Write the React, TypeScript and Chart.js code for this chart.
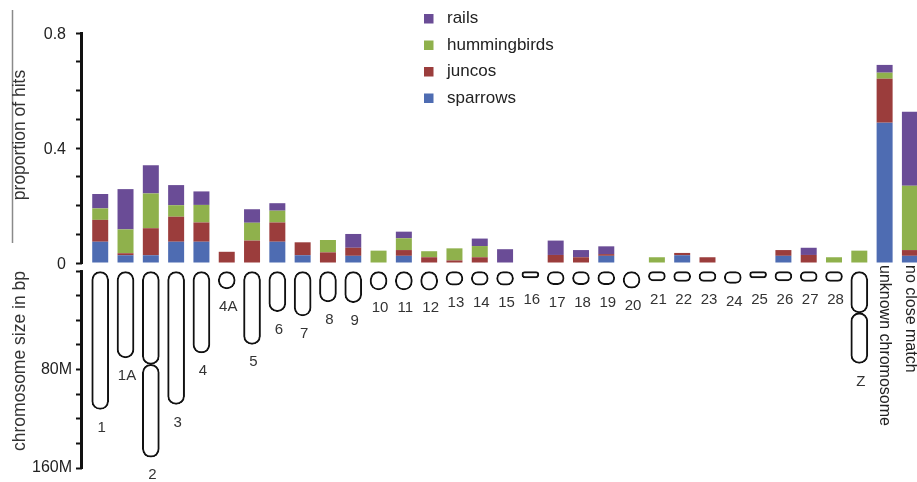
import React, { useEffect, useRef } from 'react';
import { Chart, registerables } from 'chart.js';

Chart.register(...registerables);

const FONT = '"Liberation Sans", Arial, sans-serif';

const CATEGORIES = ['1', '1A', '2', '3', '4', '4A', '5', '6', '7', '8', '9', '10', '11', '12', '13', '14', '15', '16', '17', '18', '19', '20', '21', '22', '23', '24', '25', '26', '27', '28', 'Z', 'unknown chromosome', 'no close match'];

const SPARROWS = [0.074, 0.027, 0.027, 0.074, 0.074, 0, 0, 0.074, 0.027, 0, 0.025, 0, 0.025, 0, 0, 0, 0, 0, 0, 0, 0.025, 0, 0, 0.027, 0, 0, 0, 0.025, 0, 0, 0, 0.488, 0.025];
const JUNCOS = [0.076, 0.007, 0.094, 0.087, 0.067, 0.039, 0.078, 0.067, 0.045, 0.037, 0.028, 0, 0.020, 0.020, 0.009, 0.020, 0, 0, 0.028, 0.020, 0.006, 0, 0, 0.008, 0.020, 0, 0, 0.020, 0.028, 0, 0, 0.153, 0.020];
const HUMMINGBIRDS = [0.040, 0.083, 0.121, 0.040, 0.061, 0, 0.062, 0.041, 0, 0.043, 0, 0.043, 0.041, 0.021, 0.042, 0.039, 0, 0, 0, 0, 0, 0, 0.020, 0, 0, 0, 0, 0, 0, 0.020, 0.043, 0.021, 0.224];
const RAILS = [0.050, 0.140, 0.098, 0.070, 0.047, 0, 0.047, 0.026, 0, 0, 0.048, 0, 0.023, 0, 0, 0.026, 0.048, 0, 0.050, 0.025, 0.027, 0, 0, 0, 0, 0, 0, 0, 0.025, 0, 0, 0.027, 0.257];

// chromosome size in Mb (first segment end), and end of second segment where drawn in two parts
const CHROM_SIZE = [112.5, 70.5, 75.8, 108.3, 66.6, 14.5, 59.5, 33, 36.5, 25, 25.7, 15.4, 15.4, 15.6, 11.5, 11.5, 11.5, 5.5, 11, 11, 11, 14, 8, 8.5, 8.5, 10, 5.5, 8, 8.5, 8.5, 34, null, null];
const CHROM_PART2_END = [null, null, 151.3, null, null, null, null, null, null, null, null, null, null, null, null, null, null, null, null, null, null, null, null, null, null, null, null, null, null, null, 75, null, null];

const HIT_TICKS = [0, 0.1, 0.2, 0.3, 0.4, 0.5, 0.6, 0.7, 0.8];
const HIT_TICK_LABELS = ['0', '', '', '', '0.4', '', '', '', '0.8'];
const SIZE_TICKS = [0, 20, 40, 60, 80, 100, 120, 140, 160];
const SIZE_TICK_LABELS = ['', '', '', '', '80M', '', '', '', '160M'];

const SERIES = [
  { label: 'sparrows', data: SPARROWS, color: '#4E6CB2' },
  { label: 'juncos', data: JUNCOS, color: '#9B3D3C' },
  { label: 'hummingbirds', data: HUMMINGBIRDS, color: '#8FB14C' },
  { label: 'rails', data: RAILS, color: '#6A4C96' },
];

const Y_TITLE_TOP = 'proportion of hits';
const Y_TITLE_BOTTOM = 'chromosome size in bp';

const decor = {
  id: 'decor',
  afterDraw(chart: any) {
    const { ctx, chartArea } = chart;
    const { x, y, y2 } = chart.scales;
    ctx.save();
    // axis lines
    const ax = chartArea.left - 0.5;
    ctx.strokeStyle = '#111';
    ctx.lineWidth = 3;
    ctx.beginPath();
    ctx.moveTo(ax, y.getPixelForValue(HIT_TICKS[HIT_TICKS.length - 1]) - 1);
    ctx.lineTo(ax, y.getPixelForValue(0) + 1);
    ctx.stroke();
    ctx.beginPath();
    ctx.moveTo(ax, y2.getPixelForValue(0) - 1);
    ctx.lineTo(ax, y2.getPixelForValue(SIZE_TICKS[SIZE_TICKS.length - 1]) + 1);
    ctx.stroke();

    // thin grey rule at the far left
    ctx.strokeStyle = '#8a8a8a';
    ctx.lineWidth = 1.5;
    ctx.beginPath();
    ctx.moveTo(12.5, 10);
    ctx.lineTo(12.5, 243);
    ctx.stroke();

    // axis titles
    ctx.fillStyle = '#333';
    ctx.font = `17.5px ${FONT}`;
    ctx.textAlign = 'center';
    ctx.textBaseline = 'alphabetic';
    ctx.save();
    ctx.translate(25, 135);
    ctx.rotate(-Math.PI / 2);
    ctx.fillText(Y_TITLE_TOP, 0, 0);
    ctx.restore();
    ctx.save();
    ctx.translate(25, 361);
    ctx.rotate(-Math.PI / 2);
    ctx.fillText(Y_TITLE_BOTTOM, 0, 0);
    ctx.restore();

    // legend (reverse stacking order)
    const items = chart.data.datasets.filter((d: any) => d.yAxisID === 'y').slice().reverse();
    ctx.font = `17px ${FONT}`;
    ctx.textAlign = 'left';
    ctx.textBaseline = 'middle';
    items.forEach((d: any, i: number) => {
      const yc = 18.5 + i * 26.5;
      ctx.fillStyle = d.backgroundColor;
      ctx.fillRect(424, yc - 4.5, 9.5, 9.5);
      ctx.fillStyle = '#222';
      ctx.fillText(d.label, 447, yc);
    });

    // chromosome labels
    ctx.font = `15px ${FONT}`;
    ctx.fillStyle = '#333';
    ctx.textAlign = 'center';
    ctx.textBaseline = 'middle';
    CATEGORIES.forEach((c, i) => {
      const size = CHROM_SIZE[i];
      if (size == null) return;
      const end = CHROM_PART2_END[i] ?? size;
      const py = Math.max(y2.getPixelForValue(end) + 18, 300);
      ctx.fillText(c, x.getPixelForValue(i) + 1.5, py);
    });

    // rotated labels for categories without a chromosome
    ctx.font = `16px ${FONT}`;
    ctx.fillStyle = '#222';
    ctx.textAlign = 'left';
    ctx.textBaseline = 'middle';
    CATEGORIES.forEach((c, i) => {
      if (CHROM_SIZE[i] != null) return;
      ctx.save();
      ctx.translate(x.getPixelForValue(i), y.getPixelForValue(0) + 2);
      ctx.rotate(Math.PI / 2);
      ctx.fillText(c, 0, 0);
      ctx.restore();
    });
    ctx.restore();
  },
};

const fitAxis = (s: any) => {
  s.width = 82;
  s.paddingTop = 0;
  s.paddingBottom = 0;
};

export default function App() {
  const ref = useRef<HTMLCanvasElement>(null);
  useEffect(() => {
    const canvas = ref.current;
    if (!canvas) return;
    const speciesSets = SERIES.map((s) => ({
      type: 'bar' as const,
      label: s.label,
      data: CATEGORIES.map((_, i) => ({ x: i, y: s.data[i] === 0 ? null : s.data[i] })),
      backgroundColor: s.color,
      borderWidth: 0,
      inflateAmount: 0,
      yAxisID: 'y',
      xAxisID: 'x',
      grouped: false,
      barThickness: 16,
      maxBarThickness: 16,
    }));
    const chromRadius = { topLeft: 9, topRight: 9, bottomLeft: 9, bottomRight: 9 };
    const chromSet1 = {
      type: 'bar' as const,
      label: 'chromosome',
      data: CATEGORIES.map((_, i) => (CHROM_SIZE[i] == null ? null : { x: i, y: [0, CHROM_SIZE[i]] })).filter(Boolean),
      backgroundColor: '#ffffff',
      borderColor: '#111',
      borderWidth: 2,
      borderSkipped: false,
      borderRadius: chromRadius,
      yAxisID: 'y2',
      xAxisID: 'x',
      grouped: false,
      barThickness: 17,
      maxBarThickness: 17,
    };
    const chromSet2 = {
      ...chromSet1,
      label: 'chromosome part 2',
      data: CATEGORIES.map((_, i) => (CHROM_PART2_END[i] == null ? null : { x: i, y: [CHROM_SIZE[i], CHROM_PART2_END[i]] })).filter(Boolean),
    };

    const chart = new Chart(canvas, {
      type: 'bar',
      data: { datasets: [...speciesSets, chromSet1, chromSet2] as any },
      options: {
        animation: false,
        responsive: false,
        devicePixelRatio: 1,
        events: [],
        layout: { padding: { top: 33, bottom: 14, left: 0, right: 0 } },
        plugins: { legend: { display: false }, tooltip: { enabled: false }, title: { display: false } },
        scales: {
          x: { type: 'linear', min: -0.72, max: 32.28, offset: false, grid: { offset: false }, display: false },
          y: {
            type: 'linear',
            position: 'left',
            stack: 'v',
            stackWeight: 234,
            weight: 1,
            stacked: true,
            min: -0.0139,
            max: 0.8,
            afterBuildTicks: (s: any) => { s.ticks = HIT_TICKS.map((v) => ({ value: v })); },
            afterFit: fitAxis,
            border: { display: false },
            grid: { drawOnChartArea: false, drawTicks: true, tickLength: 6, tickWidth: 2, tickColor: '#111', color: '#111' },
            ticks: {
              autoSkip: false,
              padding: 10,
              labelOffset: 2,
              color: '#222',
              font: { family: FONT, size: 16 },
              callback: (v: any) => HIT_TICK_LABELS[HIT_TICKS.findIndex((t) => Math.abs(t - Number(v)) < 1e-9)] ?? '',
            },
          },
          y2: {
            type: 'linear',
            position: 'left',
            stack: 'v',
            stackWeight: 201,
            weight: 0,
            stacked: false,
            reverse: true,
            min: -3.3,
            max: 160,
            afterBuildTicks: (s: any) => { s.ticks = SIZE_TICKS.map((v) => ({ value: v })); },
            afterFit: fitAxis,
            border: { display: false },
            grid: { drawOnChartArea: false, drawTicks: true, tickLength: 6, tickWidth: 2, tickColor: '#111', color: '#111' },
            ticks: {
              autoSkip: false,
              padding: 4,
              color: '#222',
              font: { family: FONT, size: 16 },
              callback: (v: any) => SIZE_TICK_LABELS[SIZE_TICKS.indexOf(Number(v))] ?? '',
            },
          },
        } as any,
      },
      plugins: [decor],
    });
    return () => chart.destroy();
  }, []);

  return (
    <div style={{ position: 'fixed', left: 0, top: 0, width: 917, height: 482, background: '#fff' }}>
      <canvas ref={ref} width={917} height={482} style={{ display: 'block', width: 917, height: 482 }} />
    </div>
  );
}
